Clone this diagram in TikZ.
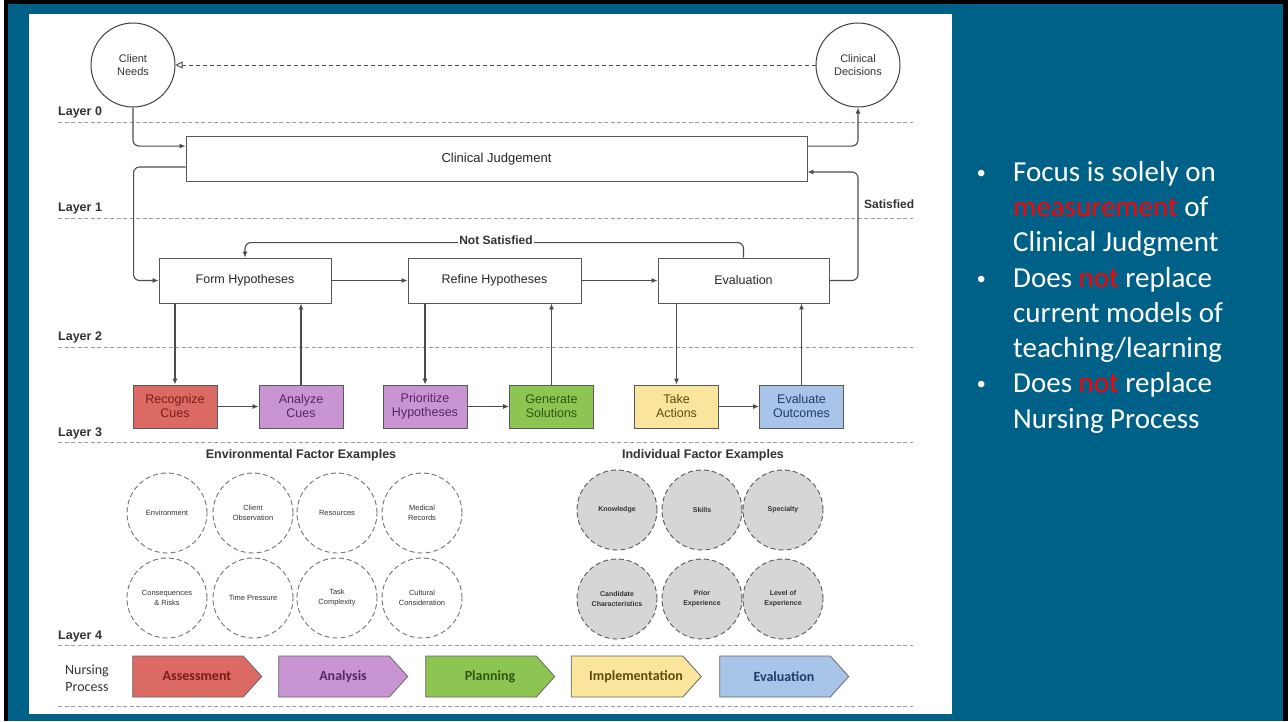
\documentclass[tikz,border=0pt]{standalone}
\usepackage{fontspec}
\setmainfont{Liberation Sans}
\newfontfamily\calfont{Carlito}
\usetikzlibrary{arrows.meta,shapes.symbols}
\definecolor{bgteal}{RGB}{0,97,136}
\definecolor{cred}{HTML}{DA6A63}
\definecolor{cpurple}{HTML}{C994D2}
\definecolor{cgreen}{HTML}{8DC553}
\definecolor{cyellow}{HTML}{FAE59C}
\definecolor{cblue}{HTML}{A8C4E9}
\definecolor{tred}{HTML}{7A1E18}
\definecolor{tpurple}{HTML}{5A2469}
\definecolor{tgreen}{HTML}{2F5512}
\definecolor{tyellow}{HTML}{5E4A0E}
\definecolor{tblue}{HTML}{1F3D6B}
\definecolor{lcol}{HTML}{9A9A9A}
\definecolor{txtred}{HTML}{FF0000}
\begin{document}
\begin{tikzpicture}[x=1pt,y=-1pt,
  layerlbl/.style={anchor=base west,font=\bfseries\fontsize{12.5}{15}\selectfont,text=black!80,inner sep=0},
  layerline/.style={draw=lcol,line width=0.8pt,dash pattern=on 4pt off 2.5pt},
  endcirc/.style={circle,draw=black!75,line width=1pt,fill=white,minimum size=84pt,inner sep=0,align=center,font=\fontsize{11}{13}\selectfont,text=black!80},
  procbox/.style={rectangle,draw=black!65,line width=0.9pt,fill=white,minimum height=45pt,inner sep=0,font=\fontsize{12.5}{15}\selectfont,text=black!85},
  cuebox/.style={rectangle,draw=black!65,line width=0.9pt,minimum width=84pt,minimum height=43pt,inner sep=0,align=center,font=\fontsize{12.5}{14}\selectfont},
  conn/.style={draw=black!70,line width=1.1pt,rounded corners=6pt,-{Latex[length=6pt,width=5pt]}},
  envcirc/.style={circle,draw=black!55,line width=0.9pt,dash pattern=on 5pt off 3pt,minimum size=80pt,inner sep=0,align=center,font=\fontsize{7.5}{10}\selectfont,text=black!80},
  indcirc/.style={envcirc,fill=black!16,draw=black!65,font=\bfseries\fontsize{7}{10}\selectfont},
  heading/.style={font=\bfseries\fontsize{12.5}{15}\selectfont,text=black!80,inner sep=0},
  chev/.style={signal,signal to=east,signal pointer angle=96,minimum width=129pt,minimum height=41pt,inner sep=0,draw=black!60,line width=0.8pt,font=\calfont\bfseries\fontsize{14}{16}\selectfont},
  bline/.style={anchor=base west,inner sep=0,text=white,font=\calfont\fontsize{29}{35}\selectfont},
  bul/.style={anchor=base west,inner sep=0,text=white,font=\fontsize{24}{28}\selectfont},
  lbl/.style={font=\bfseries\fontsize{12}{14}\selectfont,text=black!80,inner sep=1pt}
]
\useasboundingbox (0,0) rectangle (1288,721);
\fill[white] (0,0) rectangle (1288,721);
\fill[black] (4,0) rectangle (1288,721);
\fill[bgteal] (8,4) rectangle (1283,721);
\fill[white] (29,14) rectangle (952,714);

% layer lines and labels
\foreach \yy in {122,218,347,442,645,706} \draw[layerline] (58,\yy) -- (913,\yy);
\node[layerlbl] (L0) at (58,115) {Layer 0};
\node[layerlbl] (L1) at (58,211) {Layer 1};
\node[layerlbl] (L2) at (58,340) {Layer 2};
\node[layerlbl] (L3) at (58,436) {Layer 3};
\node[layerlbl] (L4) at (58,639) {Layer 4};

% layer 0
\node[endcirc] (CN) at (133,65) {Client\\Needs};
\node[endcirc] (CD) at (858,65) {Clinical\\Decisions};
\draw[draw=black!70,line width=0.9pt,dash pattern=on 4pt off 3pt,-{Triangle[open,length=7pt,width=7pt]}] (CD.west) -- (CN.east);

% layer 1
\node[procbox,minimum width=621pt,font=\fontsize{13}{15}\selectfont] (CJ) at (496.5,159) {Clinical Judgement};

% layer 2
\node[procbox,minimum width=172pt] (FH) at (245,280.5) {Form Hypotheses};
\node[procbox,minimum width=173pt] (RH) at (494.5,280.5) {Refine Hypotheses};
\node[procbox,minimum width=171pt] (EV) at (743.5,280.5) {Evaluation};

% layer 3
\node[cuebox,fill=cred,text=tred] (RC) at (175,406.5) {Recognize\\Cues};
\node[cuebox,fill=cpurple,text=tpurple] (AC) at (301,406.5) {Analyze\\Cues};
\node[cuebox,fill=cpurple,text=tpurple] (PH) at (425,406.5) {Prioritize\\Hypotheses};
\node[cuebox,fill=cgreen,text=tgreen] (GS) at (551.5,406.5) {Generate\\Solutions};
\node[cuebox,fill=cyellow,text=tyellow] (TA) at (676.5,406.5) {Take\\Actions};
\node[cuebox,fill=cblue,text=tblue] (EO) at (801.5,406.5) {Evaluate\\Outcomes};

% connectors
\coordinate (satc) at (858,172);
\draw[conn] (CN.south) |- ([yshift=-10pt]CJ.north west);
\draw[conn] ([yshift=15pt]CJ.south west) -| ([xshift=-25pt]FH.west) -- (FH.west);
\draw[conn] ([yshift=-10pt]CJ.north east) -| (CD.south);
\draw[conn] (EV.east) -| (satc) -- (CJ.east |- satc);
\draw[conn] (EV.north) |- ([yshift=15pt]FH.north) -- (FH.north);
\node[lbl,fill=white] (NS) at (496,240) {Not Satisfied};
\node[lbl,anchor=west] (SAT) at (863,204) {Satisfied};
\draw[conn] (FH.east) -- (RH.west);
\draw[conn] (RH.east) -- (EV.west);
\draw[conn] (RC.north |- FH.south) -- (RC.north);
\draw[conn] (AC.north) -- (AC.north |- FH.south);
\draw[conn] (PH.north |- RH.south) -- (PH.north);
\draw[conn] (GS.north) -- (GS.north |- RH.south);
\draw[conn] (TA.north |- EV.south) -- (TA.north);
\draw[conn] (EO.north) -- (EO.north |- EV.south);
\draw[conn] (RC.east) -- (AC.west);
\draw[conn] (PH.east) -- (GS.west);
\draw[conn] (TA.east) -- (EO.west);

% layer 4
\node[heading] (EH) at (301,455) {Environmental Factor Examples};
\node[heading] (IH) at (703,455) {Individual Factor Examples};
\node[envcirc] (E1) at (167,513) {Environment};
\node[envcirc] (E2) at (253,513) {Client\\Observation};
\node[envcirc] (E3) at (337,513) {Resources};
\node[envcirc] (E4) at (422,513) {Medical\\Records};
\node[envcirc] (E5) at (167,598) {Consequences\\\& Risks};
\node[envcirc] (E6) at (253,598) {Time Pressure};
\node[envcirc] (E7) at (337,598) {Task\\Complexity};
\node[envcirc] (E8) at (422,598) {Cultural\\Consideration};
\node[indcirc] (I1) at (617,510) {Knowledge};
\node[indcirc] (I2) at (702,510) {Skills};
\node[indcirc] (I3) at (783,510) {Specialty};
\node[indcirc] (I4) at (617,599) {Candidate\\Characteristics};
\node[indcirc] (I5) at (702,599) {Prior\\Experience};
\node[indcirc] (I6) at (783,599) {Level of\\Experience};

% nursing process
\node[align=center,inner sep=0,text=black!80,font=\calfont\fontsize{14}{17}\selectfont] (NP) at (87,678) {Nursing\\Process};
\node[chev,fill=cred,text=tred] (P1) at (188,676.5) {\hspace*{18pt}Assessment};
\node[chev,fill=cpurple,text=tpurple] (P2) at (334,676.5) {\hspace*{18pt}Analysis};
\node[chev,fill=cgreen,text=tgreen] (P3) at (481,676.5) {\hspace*{18pt}Planning};
\node[chev,fill=cyellow,text=tyellow] (P4) at (627,676.5) {\hspace*{18pt}Implementation};
\node[chev,fill=cblue,text=tblue] (P5) at (775,676.5) {\hspace*{18pt}Evaluation};

% right text
\node[bul] (B1) at (977,181) {•};
\node[bul] (B2) at (977,287) {•};
\node[bul] (B3) at (977,392.8) {•};
\node[bline] (T1) at (1013,181) {Focus is solely on};
\node[bline] (T2) at (1013,216.3) {\textcolor{txtred}{measurement} of};
\node[bline] (T3) at (1013,251.6) {Clinical Judgment};
\node[bline] (T4) at (1013,287) {Does \textcolor{txtred}{not} replace};
\node[bline] (T5) at (1013,322.2) {current models of};
\node[bline] (T6) at (1013,357.5) {teaching/learning};
\node[bline] (T7) at (1013,392.8) {Does \textcolor{txtred}{not} replace};
\node[bline] (T8) at (1013,428) {Nursing Process};
\end{tikzpicture}
\end{document}
